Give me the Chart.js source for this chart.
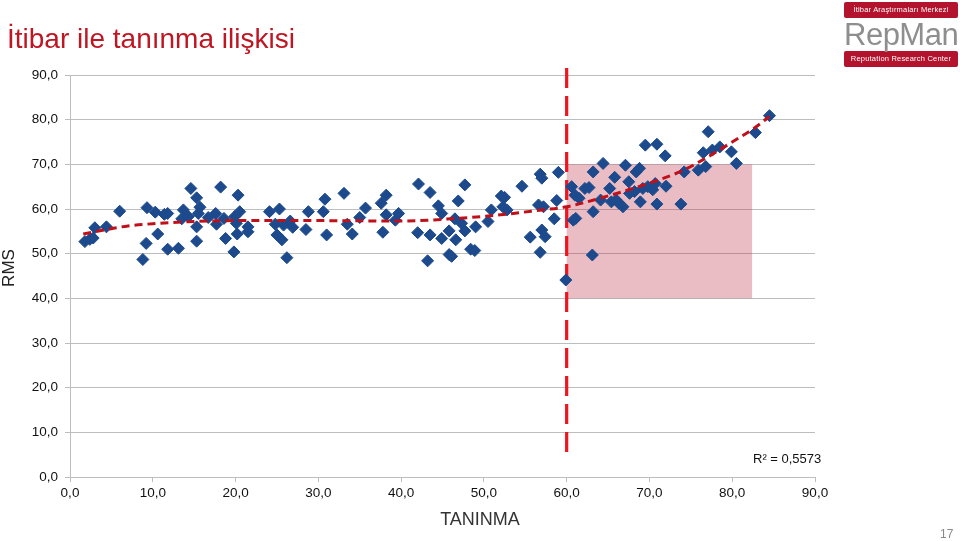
<!DOCTYPE html>
<html lang="tr">
<head>
<meta charset="utf-8">
<title>İtibar ile tanınma ilişkisi</title>
<script src="https://cdn.jsdelivr.net/npm/chart.js@4.4.1/dist/chart.umd.min.js"></script>
<style>
  html, body { margin: 0; padding: 0; background: #fff; }
  body { width: 960px; height: 541px; position: relative; overflow: hidden; font-family: "Liberation Sans", Arial, sans-serif; }
  #grafik { position: absolute; left: 0; top: 0; }
  .baslik { position: absolute; left: 7px; top: 23px; font-size: 28px; color: #be1622; white-space: nowrap; }
  .eksenY { position: absolute; left: -11px; top: 258px; width: 40px; text-align: center; font-size: 17px; color: #222; transform: rotate(-90deg); }
  .eksenX { position: absolute; left: 380px; top: 509px; width: 200px; text-align: center; font-size: 18px; color: #333; }
  .r2 { position: absolute; left: 753px; top: 451px; font-size: 13px; color: #111; }
  .sayfa { position: absolute; left: 940px; top: 527px; font-size: 12px; color: #888; }
  .logo { position: absolute; left: 844px; top: 2px; width: 114px; }
  .logo .bant { background: #b3132c; color: #fff; font-size: 7.5px; text-align: center; height: 16px; line-height: 16px; border-radius: 2px; letter-spacing: 0.2px; }
  .logo .ad { color: #8e8e8e; font-size: 31px; line-height: 33px; height: 33px; text-align: center; letter-spacing: -0.5px; }
</style>
</head>
<body>
<canvas id="grafik" width="960" height="541"></canvas>
<div class="baslik">İtibar ile tanınma ilişkisi</div>
<div class="eksenY">RMS</div>
<div class="eksenX">TANINMA</div>
<div class="r2">R² = 0,5573</div>
<div class="sayfa">17</div>
<div class="logo">
  <div class="bant">İtibar Araştırmaları Merkezi</div>
  <div class="ad">RepMan</div>
  <div class="bant">Reputation Research Center</div>
</div>
<script>
// tanınma (x) ve itibar (y) değerleri
var taninma = [
  1.8, 2.4, 2.8, 3.0, 4.4, 6.0, 8.8, 9.2, 9.3, 10.3, 10.6, 11.4, 11.8, 11.8, 13.1, 13.7, 13.5, 14.3,
  14.6, 15.3, 15.3, 15.3, 15.7, 15.5, 16.7, 17.6, 17.7, 18.2, 18.6, 18.8, 19.8, 19.9, 20.3, 20.5,
  20.1, 20.2, 21.5, 21.5, 24.1, 25.3, 24.8, 25.0, 25.6, 25.8, 26.6, 26.9, 26.2, 28.5, 28.8, 30.8,
  30.6, 31.0, 33.1, 33.5, 34.1, 35.0, 35.7, 37.6, 38.2, 38.2, 37.8, 39.3, 39.7,
  42.1, 43.5, 42.0, 43.5, 43.2, 44.5, 44.9, 44.9, 45.8, 45.8, 46.1, 46.6, 46.5, 46.9, 47.3, 47.7,
  47.7, 48.4, 48.9, 49.0, 50.5, 50.9, 52.1, 52.5, 52.3, 52.8, 54.6, 55.6, 56.6, 57.2, 56.8, 57.0,
  57.0, 57.4, 56.8, 58.5, 58.8, 59.0, 59.9, 60.6, 61.0, 60.8,
  61.5, 61.1, 62.2, 62.7, 63.2, 63.2, 63.1, 64.1, 64.4, 65.2, 65.4, 65.8, 66.0, 66.3, 66.8, 67.1,
  67.5, 67.6, 68.2, 68.4, 68.8, 68.9, 69.2, 69.5, 69.8, 70.4, 70.7, 70.9, 70.9, 71.9, 72.0, 73.8,
  74.2, 75.9, 76.5, 76.8, 77.1, 77.6, 78.5, 79.9, 80.5, 82.8, 84.5
];
var itibar = [
  52.7, 53.2, 53.5, 55.8, 56.0, 59.5, 48.7, 52.3, 60.3, 59.3, 54.4, 58.8, 59.0, 51.0, 51.2, 59.8, 57.8, 58.3,
  64.6, 62.5, 56.0, 52.8, 60.4, 59.0, 58.1, 59.0, 56.6, 64.9, 57.9, 53.4, 50.4, 58.3, 63.1, 59.4,
  56.8, 54.4, 56.0, 54.9, 59.4, 60.0, 56.6, 54.2, 53.1, 56.4, 57.3, 55.9, 49.1, 55.4, 59.4, 62.2,
  59.4, 54.2, 63.5, 56.6, 54.4, 58.1, 60.2, 61.3, 63.1, 58.7, 54.8, 57.5, 59.0,
  65.6, 63.7, 54.7, 54.2, 48.4, 60.7, 59.0, 53.4, 55.1, 49.8, 49.4, 53.1, 57.8, 61.8, 56.8, 65.4,
  55.1, 51.0, 50.7, 56.0, 57.2, 59.8, 62.9, 62.6, 60.5, 59.8, 65.1, 53.7, 60.9, 60.5, 67.8, 66.9,
  55.3, 53.8, 50.3, 57.8, 61.9, 68.2, 44.1, 65.0, 63.1, 57.5,
  62.4, 57.9, 64.6, 64.8, 68.3, 59.4, 49.7, 62.0, 70.2, 64.6, 61.6, 67.1, 62.0, 61.3, 60.5, 69.8,
  66.1, 63.5, 63.9, 68.3, 69.1, 61.6, 64.6, 74.3, 65.0, 64.3, 65.7, 61.1, 74.5, 71.9, 65.1, 61.1,
  68.3, 68.7, 72.6, 69.5, 77.3, 73.2, 73.9, 72.8, 70.2, 77.1, 80.9
];

// eğilim çizgisi (polinom), resimden okunan noktalar
var egilimX = [1.6, 5, 7, 10, 15, 20, 30, 40, 46, 52, 57, 60, 64, 70, 74, 77, 80, 82.5, 84.5];
var egilimY = [54.4, 55.6, 56.2, 56.7, 57.2, 57.4, 57.4, 57.3, 57.8, 58.7, 59.8, 60.5, 62.4, 65.8, 68.6, 71.6, 75.0, 77.9, 80.7];

// eksen etiketleri
var xEtiketleri = ["0,0", "10,0", "20,0", "30,0", "40,0", "50,0", "60,0", "70,0", "80,0", "90,0"];
var yEtiketleri = ["0,0", "10,0", "20,0", "30,0", "40,0", "50,0", "60,0", "70,0", "80,0", "90,0"];

// vurgulanan bölge ve eşik
var esikX = 60;
var bolgeX = [60, 82.4];
var bolgeY = [40, 70];

var noktalar = taninma.map(function(x, i) { return { x: x, y: itibar[i] }; });
var egilim = egilimX.map(function(x, i) { return { x: x, y: egilimY[i] }; });

var bolgeEklentisi = {
    id: "bolge",
    beforeDatasetsDraw: function(chart) {
        var ctx = chart.ctx;
        var sx = chart.scales.x, sy = chart.scales.y;
        var x1 = sx.getPixelForValue(bolgeX[0]), x2 = sx.getPixelForValue(bolgeX[1]);
        var y1 = sy.getPixelForValue(bolgeY[1]), y2 = sy.getPixelForValue(bolgeY[0]);
        ctx.save();
        ctx.fillStyle = "rgba(190, 50, 75, 0.32)";
        ctx.fillRect(x1, y1, x2 - x1, y2 - y1);
        // kırmızı kesikli dikey çizgi
        var px = sx.getPixelForValue(esikX);
        ctx.strokeStyle = "#f0141e";
        ctx.lineWidth = 3.2;
        ctx.setLineDash([20, 8]);
        ctx.beginPath();
        ctx.moveTo(px, 68);
        ctx.lineTo(px, 459);
        ctx.stroke();
        ctx.restore();
    }
};

var grafik = new Chart(document.getElementById("grafik"), {
    type: "scatter",
    data: {
        datasets: [{
            data: egilim,
            showLine: true,
            borderColor: "#c0101a",
            borderWidth: 3,
            borderDash: [8, 5],
            pointRadius: 0,
            cubicInterpolationMode: "monotone",
            fill: false
        }, {
            data: noktalar,
            pointStyle: "rectRot",
            pointRadius: 6,
            backgroundColor: "#1c4a8c",
            borderColor: "#1c4a8c",
            borderWidth: 1
        }]
    },
    options: {
        responsive: false,
        devicePixelRatio: 1,
        animation: false,
        layout: { padding: { left: 0, top: 75, right: 145, bottom: 0 } },
        plugins: {
            legend: { display: false },
            tooltip: { enabled: false }
        },
        scales: {
            x: {
                type: "linear",
                min: 0, max: 90,
                afterFit: function(s) { s.paddingLeft = 0; s.paddingRight = 0; s.height = 64; },
                afterBuildTicks: function(s) { s.ticks = xEtiketleri.map(function(t, i) { return { value: i * 10 }; }); },
                ticks: {
                    callback: function(v, i) { return xEtiketleri[i]; },
                    color: "#111",
                    font: { family: "Liberation Sans", size: 13.5 },
                    padding: 3,
                    maxRotation: 0
                },
                grid: { drawOnChartArea: false, drawTicks: true, tickLength: 5, color: "#bdbdbd" },
                border: { color: "#bdbdbd", width: 1 }
            },
            y: {
                type: "linear",
                min: 0, max: 90,
                afterFit: function(s) { s.width = 70; },
                afterBuildTicks: function(s) { s.ticks = yEtiketleri.map(function(t, i) { return { value: i * 10 }; }); },
                ticks: {
                    callback: function(v, i) { return yEtiketleri[i]; },
                    color: "#111",
                    font: { family: "Liberation Sans", size: 13.5 },
                    padding: 7
                },
                grid: { color: "#bdbdbd", tickLength: 5, lineWidth: 1 },
                border: { color: "#bdbdbd", width: 1 }
            }
        }
    },
    plugins: [bolgeEklentisi]
});
</script>
</body>
</html>
